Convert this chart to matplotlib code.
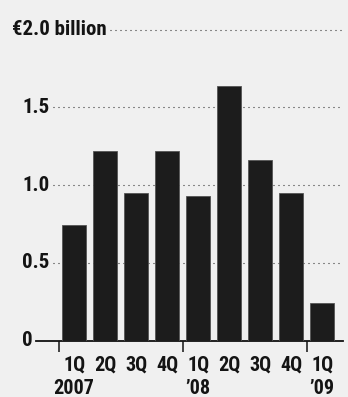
"""Quarterly bars, € billion, 1Q 2007 - 1Q 2009."""
import matplotlib

matplotlib.use("Agg")
import matplotlib.pyplot as plt  # noqa: E402
from matplotlib import font_manager as fm  # noqa: E402
from matplotlib.transforms import blended_transform_factory  # noqa: E402

# data
quarters = ["1Q", "2Q", "3Q", "4Q", "1Q", "2Q", "3Q", "4Q", "1Q"]
years = ["2007", "", "", "", "’08", "", "", "", "’09"]
values = [0.74, 1.22, 0.95, 1.22, 0.93, 1.64, 1.16, 0.95, 0.24]
ytick_vals = [0, 0.5, 1.0, 1.5, 2.0]
ytick_labels = ["0", "0.5", "1.0", "1.5", "€2.0 billion"]
year_ticks = [-0.5, 3.5, 7.5]

BG = "#f0f0f0"
BAR = "#1c1c1c"
INK = "#141414"


def pick_font():
    """Prefer a condensed sans, the reference uses a narrow face."""
    fonts = fm.fontManager.ttflist
    names = {f.name for f in fonts}
    for fam in ["Roboto Condensed", "Liberation Sans Narrow", "Open Sans Condensed",
                "Noto Sans Condensed", "DejaVu Sans Condensed"]:
        if fam in names:
            return {"family": fam, "stretch": "normal"}
    for fam in ["Noto Sans", "Open Sans", "DejaVu Sans", "Roboto"]:
        if any(f.name == fam and str(f.stretch) in ("condensed", "semi-condensed",
                                                     "extra-condensed", "300", "400")
               for f in fonts):
            return {"family": fam, "stretch": "condensed"}
    return {"family": "Roboto", "stretch": "normal"}


FONT = pick_font()


def fp(size):
    return fm.FontProperties(family=[FONT["family"], "DejaVu Sans"], stretch=FONT["stretch"],
                             weight="bold", size=size)


W, H = 348, 397
fig = plt.figure(figsize=(W / 100, H / 100), dpi=100, facecolor=BG)
ax = fig.add_axes([36 / W, (H - 340.5) / H, (342.7 - 36) / W, 310.9 / H])
ax.set_facecolor(BG)

xs = list(range(len(values)))
ax.bar(xs, values, width=0.77, color=BAR, edgecolor="#555555", linewidth=0.6, zorder=3)

ax.set_xlim(-1.23, 8.66)
ax.set_ylim(0, 2.0)

# partial dotted gridlines, starting after each label
grid_start = {0.5: 53, 1.0: 53, 1.5: 53, 2.0: 110}
label_left = {2.0: 12}
for v, lab in zip(ytick_vals, ytick_labels):
    if v in grid_start:
        x0 = (grid_start[v] - 36) / (342.7 - 36)
        ax.axhline(v, xmin=x0, xmax=1, color="#222222", lw=0.8,
                   ls=(0, (0.9, 3.6)), zorder=1, clip_on=False)
    lx = (label_left.get(v, 22) - 36) / (342.7 - 36)
    ax.text(lx, v, lab, transform=ax.get_yaxis_transform(),
            ha="left", va="center", fontproperties=fp(15), color=INK)

for s in ["left", "right", "top"]:
    ax.spines[s].set_visible(False)
ax.spines["bottom"].set_linewidth(1.3)
ax.spines["bottom"].set_color("#111111")
ax.set_yticks([])
ax.set_xticks(year_ticks)
ax.set_xticklabels([])
ax.tick_params(axis="x", length=8, width=1.1, color="#111111")

tr = blended_transform_factory(ax.transData, ax.transAxes)
for x, q, yr in zip(xs, quarters, years):
    ax.text(x, -0.05, q, transform=tr, ha="center", va="top", fontproperties=fp(14.5),
            color=INK)
    if yr:
        ax.text(x, -0.125, yr, transform=tr, ha="center", va="top",
                fontproperties=fp(14.5), color=INK)

fig.savefig("out.png", dpi=100, facecolor=BG)
